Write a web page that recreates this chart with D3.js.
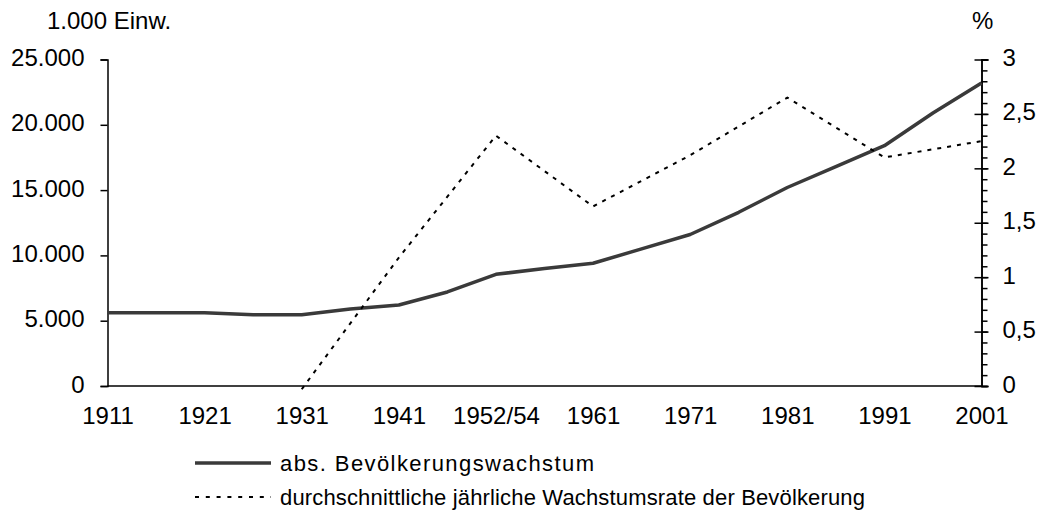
<!DOCTYPE html>
<html>
<head>
<meta charset="utf-8">
<script src="https://cdn.jsdelivr.net/npm/d3@7"></script>
<style>
  body { margin: 0; background: #fff; }
  text { font-family: "Liberation Sans", Arial, sans-serif; font-size: 24px; fill: #000; }
  .legend text { font-size: 22px; }
</style>
</head>
<body>
<div id="chart"></div>
<script>
// 5-year steps on the x axis, labels only every decade
const periods = ['1911', '1916', '1921', '1926', '1931', '1936', '1941', '1946', '1952/54', '1956',
                 '1961', '1966', '1971', '1976', '1981', '1986', '1991', '1996', '2001'];
const tickLabels = ['1911', '1921', '1931', '1941', '1952/54', '1961', '1971', '1981', '1991', '2001'];
// population, 1.000 inhabitants
const population = [5600, 5600, 5600, 5450, 5450, 5900, 6200, 7200, 8550, 9000,
                    9400, 10500, 11600, 13300, 15200, 16800, 18400, 20900, 23200];
// average annual growth rate, % (only per decade)
const growthRate = [null, null, null, null, -0.03, null, 1.18, null, 2.3, null,
                    1.65, null, 2.12, null, 2.65, null, 2.1, null, 2.25];
const leftTicks = [0, 5000, 10000, 15000, 20000, 25000];
const rightTicks = [0, 0.5, 1, 1.5, 2, 2.5, 3];
const legendLabels = ['abs. Bevölkerungswachstum', 'durchschnittliche jährliche Wachstumsrate der Bevölkerung'];

const W = 1041, H = 517;
const M = {left: 107.5, right: 981.5, top: 59.5, bottom: 386};

const svg = d3.select('#chart').append('svg')
  .attr('width', W)
  .attr('height', H);

const x = d3.scalePoint().domain(periods).range([M.left, M.right]);
const yL = d3.scaleLinear().domain([0, 25000]).range([M.bottom, M.top]);
const yR = d3.scaleLinear().domain([0, 3]).range([M.bottom, M.top]);

const fmtL = d => d3.format(',')(d).replace(/,/g, '.');
const fmtR = d => String(d).replace('.', ',');

// left axis
const gL = svg.append('g')
  .attr('transform', `translate(${M.left},0)`)
  .call(d3.axisLeft(yL).tickValues(leftTicks).tickSize(7).tickPadding(16).tickFormat(fmtL));

// right axis: minor ticks outside, major ticks crossing
const minor = d3.range(0, 31).map(d => d / 10);
svg.append('g')
  .attr('transform', `translate(${M.right},0)`)
  .call(d3.axisRight(yR).tickValues(minor).tickSize(6).tickFormat(''));
const gR = svg.append('g')
  .attr('transform', `translate(${M.right},0)`)
  .call(d3.axisRight(yR).tickValues(rightTicks).tickSize(7).tickPadding(14).tickFormat(fmtR));
gR.selectAll('.tick line').attr('x1', -7);

// bottom axis without ticks
const gB = svg.append('g')
  .attr('transform', `translate(0,${M.bottom})`)
  .call(d3.axisBottom(x).tickValues(tickLabels).tickSize(0).tickPadding(21));
gB.select('.domain').attr('d', `M${M.left},0H${M.right}`);

svg.selectAll('.domain, .tick line').attr('stroke', '#000').attr('stroke-width', 1.5);
svg.selectAll('.tick text').attr('font-size', null).attr('font-family', null).attr('fill', '#000');
gL.selectAll('.tick text').attr('dy', '0.25em');
gR.selectAll('.tick text').attr('dy', '0.25em');

// axis titles
svg.append('text').attr('x', 47).attr('y', 29).text('1.000 Einw.');
svg.append('text').attr('x', 972).attr('y', 29).text('%');

// lines
const popLine = d3.line()
  .x((d, i) => x(periods[i]))
  .y(d => yL(d));
svg.append('path')
  .datum(population)
  .attr('fill', 'none')
  .attr('stroke', '#3a3a3a')
  .attr('stroke-width', 3.5)
  .attr('stroke-linejoin', 'round')
  .attr('d', popLine);

const ratePts = periods.map((p, i) => ({p, v: growthRate[i]})).filter(d => d.v !== null);
const rateLine = d3.line()
  .x(d => x(d.p))
  .y(d => yR(d.v));
svg.append('path')
  .datum(ratePts)
  .attr('fill', 'none')
  .attr('stroke', '#000')
  .attr('stroke-width', 2)
  .attr('stroke-dasharray', '4,6')
  .attr('d', rateLine);

// legend
const lg = svg.append('g').attr('class', 'legend');
lg.append('line').attr('x1', 195).attr('x2', 271).attr('y1', 463).attr('y2', 463)
  .attr('stroke', '#3a3a3a').attr('stroke-width', 3.5);
lg.append('text').attr('x', 280).attr('y', 471)
  .attr('textLength', 314).attr('lengthAdjust', 'spacing').text(legendLabels[0]);
lg.append('line').attr('x1', 195).attr('x2', 271).attr('y1', 497).attr('y2', 497)
  .attr('stroke', '#000').attr('stroke-width', 1.8).attr('stroke-dasharray', '4,6.8');
lg.append('text').attr('x', 280).attr('y', 505)
  .attr('textLength', 585).attr('lengthAdjust', 'spacing').text(legendLabels[1]);
</script>
</body>
</html>
